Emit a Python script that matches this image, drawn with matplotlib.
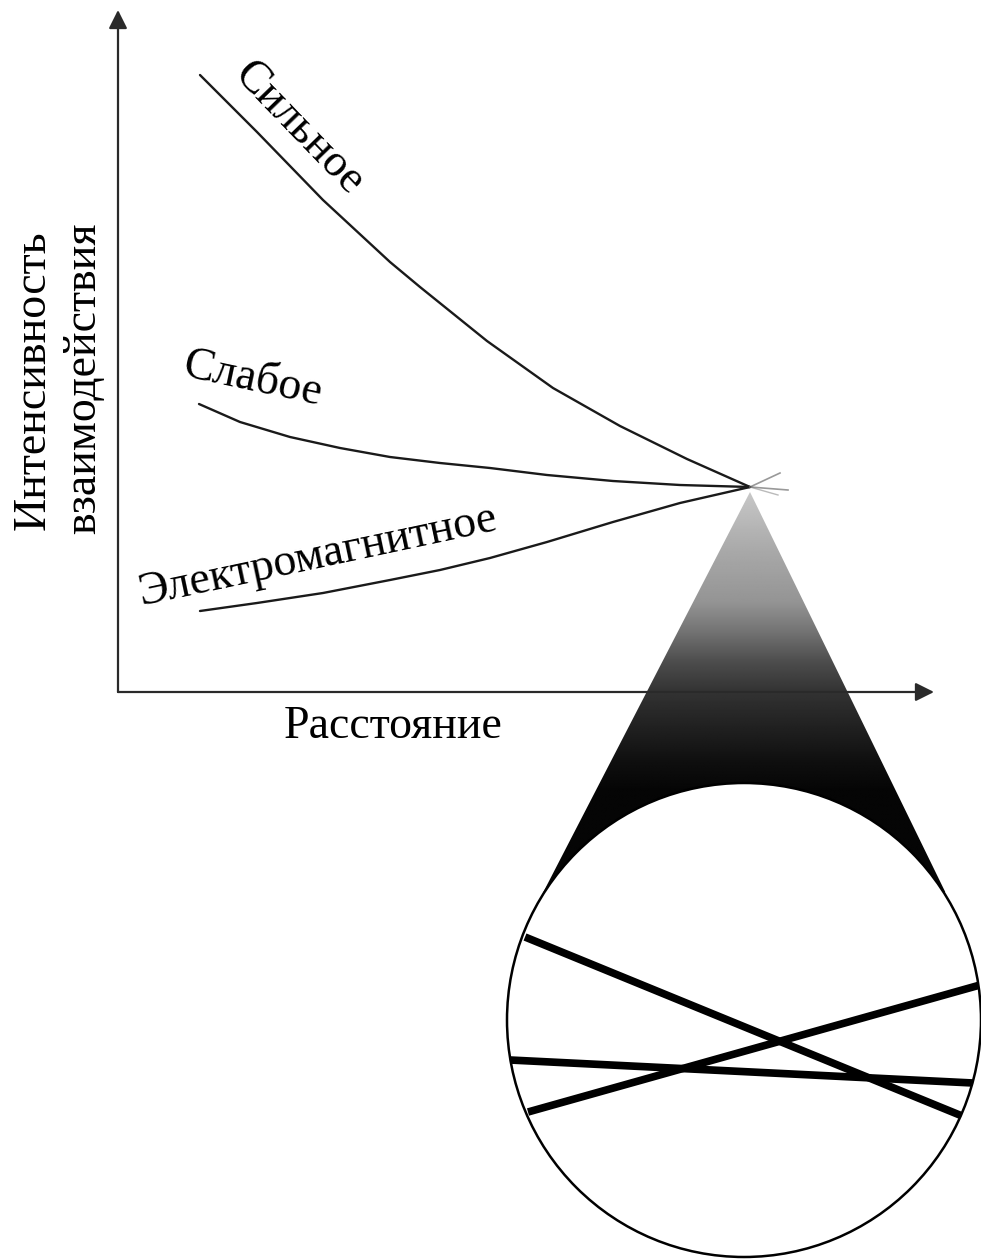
import numpy as np
import matplotlib.pyplot as plt
from matplotlib.patches import Circle, Polygon
from matplotlib.colors import LinearSegmentedColormap

plt.rcParams['font.family'] = ['Liberation Serif', 'DejaVu Serif']

# curves: distance vs interaction intensity (arbitrary units, origin at the axes corner)
strong_x = [0.82, 1.39, 2.05, 2.72, 3.02, 3.69, 4.35, 5.02, 5.69, 6.32]
strong_y = [6.17, 5.60, 4.92, 4.30, 4.05, 3.51, 3.04, 2.66, 2.33, 2.05]
weak_x = [0.81, 1.22, 1.72, 2.22, 2.72, 3.22, 3.72, 4.29, 4.95, 5.62, 6.32]
weak_y = [2.88, 2.70, 2.55, 2.44, 2.35, 2.29, 2.24, 2.17, 2.11, 2.07, 2.05]
em_x = [0.82, 1.39, 2.05, 2.72, 3.22, 3.72, 4.29, 4.95, 5.62, 6.32]
em_y = [0.81, 0.89, 0.99, 1.12, 1.22, 1.34, 1.50, 1.70, 1.89, 2.05]
labels = ['Сильное', 'Слабое', 'Электромагнитное']

# magnified view: three thick lines inside the circle
zoom_lines_x = [[4.07, 8.49], [3.92, 8.55], [4.10, 8.62]]
zoom_lines_y = [[-2.45, -4.26], [-3.68, -3.91], [-4.20, -2.93]]

# cone shading levels from apex downwards
cone_levels_y = [2.00, 1.40, 0.90, 0.60, 0.30, 0.00, -0.30, -0.70, -1.00]
cone_levels_g = [0.78, 0.66, 0.58, 0.45, 0.30, 0.20, 0.14, 0.06, 0.02]

fig = plt.figure(figsize=(9.81, 12.6), dpi=100)
ax = fig.add_axes([0, 0, 1, 1])
ax.set_xlim(-1.18, 8.63)
ax.set_ylim(-5.68, 6.92)
ax.set_aspect('equal')
ax.axis('off')

# axes with arrows
axcol = '#2a2a2a'
ax.annotate('', xy=(0, 6.82), xytext=(0, 0),
            arrowprops=dict(arrowstyle='-|>', mutation_scale=28, lw=1.6, color=axcol,
                            shrinkA=0, shrinkB=0))
ax.annotate('', xy=(8.16, 0), xytext=(0, 0),
            arrowprops=dict(arrowstyle='-|>', mutation_scale=28, lw=1.6, color=axcol,
                            shrinkA=0, shrinkB=0))

# cone from the convergence point to the circle
apex = np.array([6.32, 2.00])
center = np.array([6.26, -3.28])
r = 2.37
v = center - apex
d = np.hypot(*v)
u = v / d
beta = np.arcsin(r / d)
tl = np.sqrt(d ** 2 - r ** 2)
def rot(w, a):
    return np.array([w[0] * np.cos(a) - w[1] * np.sin(a), w[0] * np.sin(a) + w[1] * np.cos(a)])
t1 = apex + rot(u, beta) * tl
t2 = apex + rot(u, -beta) * tl
cone = Polygon([apex, t1, center, t2], closed=True, facecolor='none', edgecolor='none')
ax.add_patch(cone)

yy = np.linspace(2.05, -2.0, 400)
gg = np.interp(yy, cone_levels_y[::-1], cone_levels_g[::-1])
img = np.tile(gg[:, None], (1, 10))
cm = LinearSegmentedColormap.from_list('g', ['black', 'white'])
im = ax.imshow(img, cmap=cm, vmin=0, vmax=1, extent=(3.5, 8.7, -2.0, 2.05),
               origin='upper', aspect='auto', interpolation='bilinear', zorder=1)
im.set_clip_path(cone)

# curves
for xs, ys in [(strong_x, strong_y), (weak_x, weak_y), (em_x, em_y)]:
    ax.plot(xs, ys, color='#1a1a1a', lw=1.7, zorder=3, solid_capstyle='round',
            solid_joinstyle='round')

# short faded tails past the crossing
ax.plot([6.32, 6.62], [2.05, 2.19], color='#555555', lw=1.2, alpha=0.6, zorder=3)
ax.plot([6.32, 6.70], [2.05, 2.02], color='#555555', lw=1.2, alpha=0.6, zorder=3)
ax.plot([6.32, 6.60], [2.05, 1.97], color='#777777', lw=1.0, alpha=0.5, zorder=3)

# text
fs = 33
ax.text(1.80, 5.64, labels[0], fontsize=fs, rotation=-46, rotation_mode='anchor',
        ha='center', va='center')
ax.text(1.34, 3.12, labels[1], fontsize=fs, rotation=-12, rotation_mode='anchor',
        ha='center', va='center')
ax.text(2.00, 1.36, labels[2], fontsize=fs, rotation=12, rotation_mode='anchor',
        ha='center', va='center')
ax.text(2.75, -0.35, 'Расстояние', fontsize=fs, ha='center', va='center')
ax.text(-0.85, 3.12, 'Интенсивность', fontsize=fs, rotation=90, ha='center', va='center')
ax.text(-0.34, 3.14, 'взаимодействия', fontsize=fs, rotation=90, ha='center', va='center')

# magnified circle
circ = Circle(center, r, facecolor='white', edgecolor='black', lw=1.8, zorder=4)
ax.add_patch(circ)
clip = Circle(center, r, transform=ax.transData)
for xs, ys in zip(zoom_lines_x, zoom_lines_y):
    ln, = ax.plot(xs, ys, color='black', lw=5.5, zorder=5, solid_capstyle='butt')
    ln.set_clip_path(clip)

fig.savefig('out.png', dpi=100, facecolor='white')
